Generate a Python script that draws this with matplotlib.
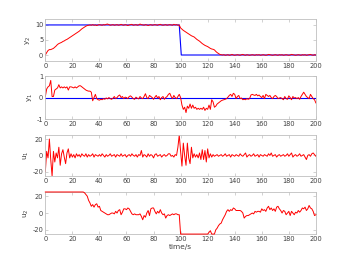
import matplotlib
matplotlib.use("Agg")
import matplotlib.pyplot as plt
import numpy as np

t = np.arange(0, 201)

y2 = [0.0, 0.8, 1.5, 1.8, 1.8, 2.0, 2.2, 2.6, 3.0, 3.5,
      3.8, 4.0, 4.2, 4.5, 4.7, 5.0, 5.2, 5.5, 5.8, 6.1,
      6.4, 6.7, 7.0, 7.3, 7.6, 7.9, 8.3, 8.7, 9.0, 9.3,
      9.6, 9.8, 9.9, 10.0, 9.9, 10.1, 9.9, 10.0, 9.8, 10.0,
      10.1, 10.0, 9.9, 10.1, 10.0, 10.2, 10.3, 10.1, 9.9, 10.0,
      10.1, 9.9, 10.0, 10.1, 9.9, 10.0, 10.2, 10.0, 9.9, 10.1,
      10.0, 9.8, 10.0, 10.1, 10.2, 9.9, 10.0, 10.1, 9.9, 10.0,
      10.3, 10.1, 10.0, 9.9, 10.1, 10.0, 9.8, 10.0, 10.1, 9.9,
      10.0, 10.1, 10.0, 9.9, 10.1, 10.2, 10.0, 9.9, 10.0, 10.1,
      9.9, 10.0, 10.1, 10.0, 9.9, 10.2, 10.0, 10.1, 9.9, 10.0,
      9.0, 8.6, 8.2, 7.9, 7.6, 7.3, 7.0, 6.7, 6.4, 6.2,
      6.0, 5.6, 5.2, 4.9, 4.6, 4.2, 3.8, 3.5, 3.2, 3.0,
      2.8, 2.5, 2.2, 2.0, 1.9, 1.7, 1.2, 0.8, 0.5, 0.2,
      0.1, 0.0, 0.1, -0.1, 0.0, 0.1, -0.1, 0.0, 0.2, 0.0,
      -0.1, 0.0, 0.1, 0.0, -0.1, 0.1, 0.2, 0.0, -0.1, 0.1,
      0.0, -0.1, 0.0, 0.1, 0.0, -0.1, 0.1, 0.0, 0.1, -0.1,
      0.0, 0.1, 0.0, -0.1, 0.0, 0.2, 0.1, 0.0, -0.1, 0.0,
      0.1, 0.0, -0.1, 0.1, 0.0, 0.1, -0.1, 0.0, 0.1, 0.0,
      -0.1, 0.0, 0.2, 0.1, 0.0, -0.1, 0.0, 0.1, 0.0, -0.1,
      0.1, 0.0, 0.1, -0.1, 0.0, 0.1, 0.2, 0.0, -0.1, 0.1,
      0.0]

ref_t = [0, 99, 100.5, 200]
ref_y2 = [10, 10, 0, 0]
ref_y1 = [0, 0]
ref_y1_t = [0, 200]

y1 = [0.05, 0.4, 0.5, 0.55, 0.8, 0.05, 0.05, 0.35, 0.4, 0.45,
      0.6, 0.45, 0.5, 0.45, 0.5, 0.45, 0.5, 0.35, 0.5, 0.5,
      0.48, 0.45, 0.5, 0.45, 0.5, 0.55, 0.55, 0.5, 0.45, 0.4,
      0.35, 0.32, 0.3, 0.3, 0.25, -0.15, 0.0, 0.15, -0.05, -0.1,
      -0.12, -0.08, -0.1, -0.05, -0.08, -0.02, -0.06, 0.0, -0.05, -0.08,
      -0.03, 0.05, -0.05, 0.0, 0.08, 0.12, 0.0, 0.05, -0.05, 0.02,
      0.0, -0.05, 0.05, 0.08, 0.02, -0.05, -0.08, 0.02, -0.03, -0.06,
      0.05, -0.02, -0.05, 0.05, 0.18, 0.0, -0.05, 0.1, 0.05, 0.0,
      -0.08, 0.02, 0.1, -0.02, 0.05, -0.1, 0.0, 0.05, -0.08, 0.0,
      0.05, 0.15, 0.2, 0.05, -0.05, 0.1, 0.0, -0.05, 0.05, 0.15,
      0.0, -0.35, -0.55, -0.45, -0.7, -0.4, -0.5, -0.3, -0.5, -0.35,
      -0.5, -0.45, -0.55, -0.5, -0.55, -0.5, -0.55, -0.45, -0.6, -0.5,
      -0.55, -0.35, -0.55, -0.1, -0.2, -0.45, -0.4, -0.3, -0.25, -0.2,
      -0.15, -0.12, -0.1, -0.08, -0.05, 0.02, 0.1, 0.15, 0.05, 0.2,
      0.15, -0.05, 0.05, 0.1, -0.05, -0.02, -0.1, -0.08, -0.1, -0.05,
      -0.08, -0.05, 0.12, 0.15, 0.12, 0.1, 0.15, 0.08, 0.12, 0.05,
      0.0, 0.1, -0.05, 0.15, 0.1, 0.05, 0.1, 0.0, -0.05, 0.05,
      0.1, 0.05, -0.05, -0.02, 0.0, -0.05, -0.1, 0.05, -0.05, -0.08,
      0.08, 0.0, -0.1, 0.05, -0.02, 0.0, -0.05, 0.0, -0.08, 0.05,
      0.15, 0.25, 0.15, 0.05, 0.0, -0.05, 0.15, 0.05, -0.05, -0.1,
      -0.25]

u1 = [-20, 5, -3, 20, -5, -25, 5, -8, 3, -3,
      10, -12, 2, 7, -2, -10, 3, 8, -3, 2,
      -2, 1, -3, 2, -1, 1, -2, 2, 0, -1,
      2, -2, 1, -1, 0, 2, -2, 1, 0, -1,
      1, -1, 2, 0, -2, 1, -1, 0, 2, -1,
      0, 1, -2, 1, 0, -1, 2, -1, 0, 1,
      -2, 0, 1, -1, 2, 0, -1, 1, -2, 1,
      0, 6, -2, 1, 0, -2, 2, -1, 1, 0,
      -3, 1, 2, -1, 0, 1, -2, 0, 1, -1,
      0, 2, 2, -1, 0, -2, 1, 0, 10, 25,
      5, -13, 15, 0, -12, 15, -3, -10, 10, -3,
      2, -2, 1, -3, 3, -5, 7, -5, 6, -8,
      8, -3, 2, -2, 1, -1, 0, 1, -1, 0,
      1, -1, 0, 2, -1, 0, 1, -2, 1, 0,
      -1, 1, 0, -1, 2, 0, -1, 1, 3, -2,
      0, 1, -1, 0, 2, -1, 0, 1, -2, 1,
      0, -1, 1, 0, -1, 2, 0, 3, -1, 0,
      1, -2, 0, 1, -1, 0, 1, -1, 0, 2,
      -1, 1, 3, -2, 0, 1, -1, 0, 2, -1,
      0, 1, -2, -5, 0, 1, -1, 2, 3, 1,
      -1]

u2 = [25, 25, 25, 25, 25, 25, 25, 25, 25, 25,
      25, 25, 25, 25, 25, 25, 25, 25, 25, 25,
      25, 25, 25, 25, 25, 25, 25, 25, 25, 24,
      22, 20, 15, 12, 8, 10, 7, 10, 11, 7,
      8, 3, 2, 1, 0, -1, -2, -2, -1, 0,
      0, -1, 2, 0, 3, 4, -2, 1, 5, 5,
      4, 6, 5, 2, -1, -2, -1, -2, -2, -2,
      -1, -4, -8, -3, -5, 0, 3, -3, 5, 6,
      6, 2, -1, 2, 0, 4, 0, -2, -1, -6,
      -3, -2, -3, -2, -1, -2, -1, -1, -2, -2,
      -25, -25, -25, -25, -25, -25, -25, -25, -25, -25,
      -25, -25, -25, -25, -25, -25, -25, -25, -25, -25,
      -25, -23, -21, -25, -25, -25, -20, -18, -15, -13,
      -12, -8, -5, -2, 2, 4, 2, 4, 3, 6,
      5, 3, 3, 3, 3, 2, 0, -6, -4, -3,
      -3, -2, -1, 0, -1, 2, 1, 2, 2, 1,
      5, 3, 4, 2, 6, 8, 4, 6, 3, 5,
      2, 7, 8, 5, 3, 0, 3, 2, -2, 0,
      2, -3, 2, 0, -2, 1, 0, 3, 1, 3,
      6, 5, 7, 3, 5, 9, 6, 5, 2, -3,
      -2]

panels = [
    ("y$_2$", [-2, 12], [0, 5, 10], ["0", "5", "10"]),
    ("y$_1$", [-1, 1], [-1, 0, 1], ["-1", "0", "1"]),
    ("u$_1$", [-25, 25], [-20, 0, 20], ["-20", "0", "20"]),
    ("u$_2$", [-25, 25], [-20, 0, 20], ["-20", "0", "20"]),
]
xticks = [0, 20, 40, 60, 80, 100, 120, 140, 160, 180, 200]

fig = plt.figure(figsize=(3.5, 2.63), dpi=100)
fig.patch.set_facecolor("white")

left, width = 0.1295, 0.773
bottoms = [0.768, 0.5475, 0.331, 0.110]
heights = [0.160, 0.163, 0.156, 0.160]

edge = "#bfbfbf"
txt = "#404040"
fs = 4.8

series = [y2, y1, u1, u2]
for i, (lab, yl, yt, ytl) in enumerate(panels):
    ax = fig.add_axes([left, bottoms[i], width, heights[i]])
    if i == 0:
        ax.plot(ref_t, ref_y2, color="blue", lw=0.8)
        ax.plot(t, series[i], color="red", lw=0.7)
    elif i == 1:
        ax.plot(ref_y1_t, ref_y1, color="blue", lw=0.8)
        ax.plot(t, series[i], color="red", lw=0.7)
    elif i == 3:
        ax.plot(t, series[i], color="red", lw=0.7, clip_on=False, zorder=5)
    else:
        ax.plot(t, series[i], color="red", lw=0.7)
    ax.set_xlim(0, 200)
    ax.set_ylim(*yl)
    ax.set_yticks(yt)
    ax.set_yticklabels(ytl)
    ax.set_xticks(xticks)
    ax.set_xticklabels([str(x) for x in xticks])
    ax.tick_params(direction="in", top=True, right=True, length=2, width=0.5,
                   labelsize=fs, colors=edge, labelcolor=txt, pad=1.5)
    for s in ax.spines.values():
        s.set_color(edge)
        s.set_linewidth(0.6)
    ax.set_ylabel(lab, fontsize=fs + 0.5, color=txt, labelpad=1)
    if i == 3:
        ax.set_xlabel("time/s", fontsize=fs + 0.5, color=txt, labelpad=1.5)

fig.savefig("out.png", dpi=100)
